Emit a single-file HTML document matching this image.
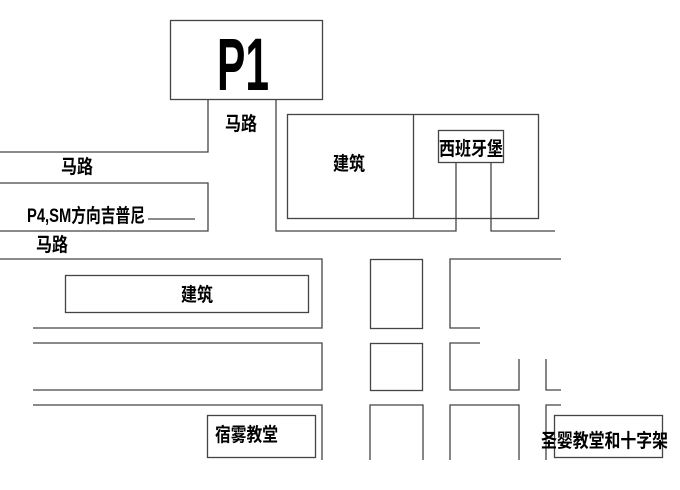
<!DOCTYPE html>
<html><head><meta charset="utf-8"><style>html,body{margin:0;padding:0;background:#fff}svg{display:block}</style></head><body>
<svg width="680" height="490" viewBox="0 0 680 490" xmlns="http://www.w3.org/2000/svg">
<g fill="none" stroke="#444" stroke-width="1.3">
<rect x="170.5" y="20.5" width="152" height="79"/>
<polyline points="0,152 208,152 208,100"/>
<polyline points="276,100 276,231 456,231 456,162"/>
<polyline points="491,162 491,231 555,231"/>
<rect x="287.5" y="114.5" width="251" height="104"/>
<line x1="413.5" y1="114" x2="413.5" y2="218"/>
<rect x="438.5" y="130.5" width="65" height="32" fill="#fff"/>
<polyline points="0,183 208,183 208,231 0,231"/>
<polyline points="0,259 322,259 322,328 33,328"/>
<rect x="65.5" y="275.5" width="243" height="37"/>
<rect x="370.5" y="259.5" width="52" height="69"/>
<polyline points="561,259 450,259 450,328 480,328"/>
<polyline points="33,343 322,343 322,390 33,390"/>
<rect x="370.5" y="343.5" width="52" height="47"/>
<polyline points="480,343 450,343 450,390 519,390 519,359"/>
<polyline points="546,359 546,390 561,390"/>
<polyline points="33,405 322,405 322,460"/>
<polyline points="370,460 370,405 423,405 423,460"/>
<polyline points="450,460 450,405 519,405 519,460"/>
<polyline points="546,460 546,405 561,405"/>
<rect x="207.5" y="415.5" width="108" height="42"/>
<rect x="554.5" y="415.5" width="108" height="42"/>
<line x1="148" y1="219" x2="195" y2="219"/>
</g>
<g font-family="Liberation Sans, Noto Sans CJK SC, sans-serif" font-weight="bold" fill="#000">
<text x="217" y="90" font-size="74" textLength="52" lengthAdjust="spacingAndGlyphs">P1</text>
<g font-size="19">
<text x="225" y="130" textLength="32" lengthAdjust="spacingAndGlyphs">马路</text>
<text x="61" y="173" textLength="32" lengthAdjust="spacingAndGlyphs">马路</text>
<text x="36" y="251" textLength="32" lengthAdjust="spacingAndGlyphs">马路</text>
<text x="27" y="222" textLength="118" lengthAdjust="spacingAndGlyphs">P4,SM方向吉普尼</text>
<text x="333" y="170" textLength="32" lengthAdjust="spacingAndGlyphs">建筑</text>
<text x="181" y="301" textLength="32" lengthAdjust="spacingAndGlyphs">建筑</text>
<text x="439" y="155" textLength="64" lengthAdjust="spacingAndGlyphs">西班牙堡</text>
<text x="215" y="441" textLength="63" lengthAdjust="spacingAndGlyphs">宿雾教堂</text>
<text x="541" y="447" textLength="127" lengthAdjust="spacingAndGlyphs">圣婴教堂和十字架</text>
</g>
</g>
</svg>
</body></html>
